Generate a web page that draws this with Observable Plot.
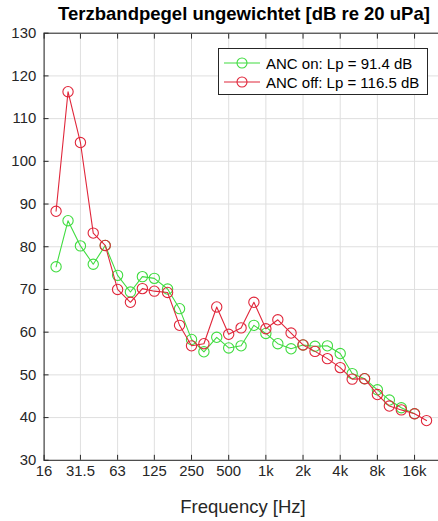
<!DOCTYPE html>
<html><head><meta charset="utf-8">
<script src="https://cdn.jsdelivr.net/npm/d3@7"></script>
<script src="https://cdn.jsdelivr.net/npm/@observablehq/plot@0.6"></script>
<style>
body{margin:0;background:#fff;font-family:"Liberation Sans",Arial,sans-serif;}
#wrap{position:relative;width:438px;height:521px;overflow:hidden;background:#fff;}
#title{position:absolute;left:0;width:488px;top:3px;text-align:center;font-weight:bold;font-size:18.5px;color:#000;white-space:nowrap;}
#xlabel{position:absolute;left:0;width:486px;top:496px;text-align:center;font-size:18.5px;color:#262626;}
#legend{position:absolute;left:218px;top:48px;width:208px;height:45px;border:1px solid #262626;background:#fff;font-size:15px;color:#000;}
.row{position:absolute;left:4px;height:18px;display:flex;align-items:center;white-space:nowrap;}
.row svg{margin-right:5px;}
#plot{position:absolute;left:0;top:0;}
</style>
</head><body>
<div id="wrap">
  <div id="plot"></div>
  <div id="title">Terzbandpegel ungewichtet [dB re 20 uPa]</div>
  <div id="xlabel">Frequency [Hz]</div>
  <div id="legend"></div>
</div>
<script>
// third-octave band centre frequencies (Hz)
const freqs = [20,25,31.5,40,50,63,80,100,125,160,200,250,315,400,500,630,800,1000,1250,1600,2000,2500,3150,4000,5000,6300,8000,10000,12500,16000,20000];
// ANC on (green)
const ancOn = [75.3,86.1,80.2,75.9,80.3,73.3,69.4,73.0,72.6,70.1,65.5,58.3,55.4,58.8,56.3,56.8,61.6,59.7,57.3,56.1,57.0,56.7,56.8,55.0,50.3,49.1,46.5,44.1,42.3,40.9,null];
// ANC off (red)
const ancOff = [88.3,116.3,104.4,83.2,80.3,70.0,67.0,70.2,69.6,69.3,61.6,56.8,57.3,65.9,59.5,61.0,67.0,60.8,62.9,59.8,57.0,55.5,53.8,51.7,49.0,49.1,45.4,42.7,41.8,40.9,39.3];
const seriesNames = ["ANC on: Lp = 91.4 dB", "ANC off: Lp = 116.5 dB"];
const seriesColors = ["#40dc40", "#e0263a"];
const xTicks = [16,31.5,63,125,250,500,1000,2000,4000,8000,16000];
const xTickLabels = ["16","31.5","63","125","250","500","1k","2k","4k","8k","16k"];
const yTicks = [30,40,50,60,70,80,90,100,110,120,130];

const onData = freqs.map((f,i)=>({f, v: ancOn[i]})).filter(d=>d.v!=null);
const offData = freqs.map((f,i)=>({f, v: ancOff[i]})).filter(d=>d.v!=null);
const xLabelData = xTicks.map((t,i)=>({t, label: xTickLabels[i]}));

const axisColor = "#262626";

const chart = Plot.plot({
  width: 442, height: 521,
  marginLeft: 44, marginRight: 0, marginTop: 33, marginBottom: 57,
  style: {fontFamily: '"Liberation Sans", Arial, sans-serif', fontSize: "15px", color: axisColor, background: "transparent"},
  x: {type: "log", domain: [16, 25000]},
  y: {domain: [30, 130]},
  marks: [
    Plot.gridX(xTicks, {stroke: "#dfdfdf", strokeOpacity: 1}),
    Plot.gridY(yTicks, {stroke: "#dfdfdf", strokeOpacity: 1}),
    Plot.frame({stroke: axisColor}),
    Plot.axisX(xTicks, {anchor: "bottom", tickSize: -5, tickFormat: () => "", stroke: axisColor, label: null}),
    Plot.axisX(xTicks, {anchor: "top", tickSize: -5, tickFormat: () => "", stroke: axisColor, label: null}),
    Plot.text(xLabelData, {x: "t", text: "label", frameAnchor: "bottom", lineAnchor: "top", dy: 5, fill: axisColor, fontSize: 15}),
    Plot.axisY(yTicks, {anchor: "left", tickSize: -5, tickFormat: () => "", stroke: axisColor, label: null}),
    Plot.axisY(yTicks, {anchor: "left", tickSize: 0, tickPadding: 8, fill: axisColor, label: null}),
    Plot.line(onData, {x: "f", y: "v", stroke: seriesColors[0], strokeWidth: 1.1}),
    Plot.dot(onData, {x: "f", y: "v", r: 5.2, stroke: seriesColors[0], fill: "none", strokeWidth: 1.1}),
    Plot.line(offData, {x: "f", y: "v", stroke: seriesColors[1], strokeWidth: 1.1}),
    Plot.dot(offData, {x: "f", y: "v", r: 5.2, stroke: seriesColors[1], fill: "none", strokeWidth: 1.1})
  ]
});
document.getElementById("plot").appendChild(chart);

// legend
const leg = document.getElementById("legend");
seriesNames.forEach((name, i) => {
  const row = document.createElement("div");
  row.className = "row";
  row.style.top = (5 + i * 19) + "px";
  row.innerHTML = `<svg width="38" height="14"><line x1="1" y1="7" x2="37" y2="7" stroke="${seriesColors[i]}" stroke-width="1.1"/><circle cx="19" cy="7" r="5" fill="none" stroke="${seriesColors[i]}" stroke-width="1.1"/></svg><span>${name}</span>`;
  leg.appendChild(row);
});
</script>
</body></html>
